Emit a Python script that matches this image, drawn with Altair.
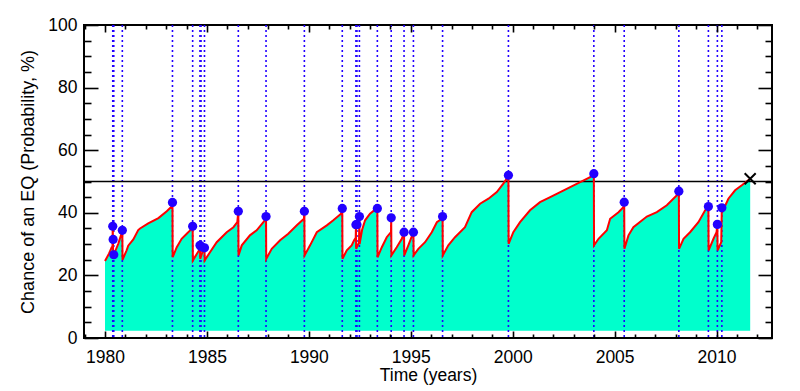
import altair as alt
import pandas as pd

# ---- data ----
curve_year = [
    1980.00, 1980.20, 1980.33, 1980.37, 1980.38, 1980.39, 1980.40, 1980.43, 1980.65, 1980.84,
    1980.85, 1980.86, 1981.06, 1981.14, 1981.39, 1981.63, 1981.72, 1982.12, 1982.62, 1983.03,
    1983.27, 1983.31, 1983.32, 1983.52, 1983.76, 1984.01, 1984.29, 1984.30, 1984.31, 1984.63,
    1984.66, 1984.67, 1984.80, 1984.88, 1984.89, 1985.15, 1985.48, 1985.97, 1986.30, 1986.49,
    1986.54, 1986.55, 1986.71, 1987.11, 1987.44, 1987.77, 1987.89, 1987.90, 1987.91, 1988.18,
    1988.59, 1988.99, 1989.41, 1989.76, 1989.78, 1989.79, 1990.06, 1990.39, 1990.88, 1991.20,
    1991.58, 1991.64, 1991.65, 1991.86, 1992.10, 1992.22, 1992.30, 1992.31, 1992.32, 1992.46,
    1992.48, 1992.49, 1992.61, 1992.76, 1993.00, 1993.25, 1993.36, 1993.37, 1993.58, 1993.82,
    1994.03, 1994.04, 1994.05, 1994.31, 1994.56, 1994.67, 1994.68, 1994.88, 1995.13, 1995.14,
    1995.37, 1995.70, 1996.03, 1996.28, 1996.52, 1996.56, 1996.57, 1996.84, 1997.17, 1997.66,
    1997.99, 1998.40, 1998.81, 1999.22, 1999.54, 1999.71, 1999.79, 1999.80, 2000.03, 2000.36,
    2000.85, 2001.34, 2001.84, 2002.33, 2002.82, 2003.31, 2003.80, 2003.98, 2003.99, 2004.21,
    2004.62, 2004.78, 2005.19, 2005.43, 2005.47, 2005.48, 2005.68, 2005.92, 2006.58, 2007.07,
    2007.56, 2008.13, 2008.15, 2008.16, 2008.38, 2008.70, 2009.11, 2009.44, 2009.57, 2009.60,
    2009.61, 2009.85, 2010.00, 2010.04, 2010.05, 2010.23, 2010.26, 2010.30, 2010.58, 2010.91,
    2011.24, 2011.65,
]
curve_prob = [
    24.6, 27.0, 29.0, 29.3, 35.7, 31.5, 25.8, 26.6, 30.1, 34.0,
    34.4, 25.0, 28.0, 29.5, 31.5, 34.5, 35.0, 36.6, 38.3, 40.5,
    42.0, 43.3, 25.8, 29.0, 31.7, 33.3, 35.1, 35.7, 24.8, 28.2,
    29.6, 25.3, 27.8, 28.8, 24.8, 27.4, 30.6, 33.8, 35.4, 37.0,
    40.5, 26.4, 29.6, 32.8, 34.4, 37.0, 38.1, 38.8, 25.3, 28.5,
    31.2, 33.3, 36.0, 38.1, 40.5, 26.4, 29.6, 33.8, 36.0, 37.6,
    39.7, 41.4, 25.3, 28.0, 29.6, 31.2, 32.0, 36.2, 28.5, 30.5,
    38.8, 30.0, 34.5, 37.6, 39.7, 41.0, 41.4, 25.8, 29.0, 32.2,
    33.8, 38.4, 26.4, 29.0, 31.7, 33.8, 26.4, 29.6, 33.8, 26.4,
    28.5, 30.6, 33.8, 37.0, 38.1, 38.8, 26.4, 29.6, 32.2, 35.4,
    40.2, 42.9, 44.5, 46.6, 49.3, 50.9, 52.0, 30.1, 33.8, 37.0,
    40.8, 43.4, 45.0, 46.6, 48.2, 49.8, 51.4, 52.5, 29.6, 31.7,
    34.4, 38.1, 40.2, 41.8, 43.4, 28.5, 32.8, 35.4, 38.8, 40.2,
    42.4, 46.1, 46.9, 28.5, 31.7, 33.8, 37.0, 40.8, 41.8, 42.0,
    28.0, 31.7, 33.8, 36.3, 28.0, 30.6, 42.5, 40.5, 44.5, 47.2,
    48.8, 50.9,
]

event_year = [
    1980.38, 1980.40, 1980.43, 1980.85, 1983.31, 1984.30, 1984.66, 1984.71, 1984.88,
    1986.54, 1987.90, 1989.78, 1991.64, 1992.31, 1992.36, 1992.48, 1993.36, 1994.04,
    1994.67, 1995.13, 1996.56, 1999.79, 2003.98, 2005.47, 2008.15, 2009.60, 2010.04,
    2010.26,
]
event_prob = [
    35.7, 31.5, 26.6, 34.4, 43.3, 35.7, 29.6, 29.2, 28.8,
    40.5, 38.8, 40.5, 41.4, 36.2, 36.2, 38.8, 41.4, 38.4,
    33.8, 33.8, 38.8, 52.0, 52.5, 43.4, 46.9, 42.0, 36.3,
    41.6,
]

now_year = [2011.65]
now_prob = [50.9]
threshold = [50]
fill_floor = 2.3

x_major = [1980, 1985, 1990, 1995, 2000, 2005, 2010]
x_minor = [1979, 1981, 1982, 1983, 1984, 1986, 1987, 1988, 1989, 1991, 1992, 1993, 1994,
           1996, 1997, 1998, 1999, 2001, 2002, 2003, 2004, 2006, 2007, 2008, 2009, 2011, 2012]
y_major = [0, 20, 40, 60, 80, 100]
y_minor = [5, 10, 15, 25, 30, 35, 45, 50, 55, 65, 70, 75, 85, 90, 95]

# ---- build ----
W, H = 688, 313
FONT = "Liberation Sans"

curve_df = pd.DataFrame({"year": curve_year, "prob": curve_prob})
event_df = pd.DataFrame({"year": event_year, "prob": event_prob})
now_df = pd.DataFrame({"year": now_year, "prob": now_prob})
thr_df = pd.DataFrame({"prob": threshold})

xs = alt.Scale(domain=[1978.97, 2012.72], nice=False, zero=False)
ys = alt.Scale(domain=[0, 100], nice=False, zero=False)


def tick_axis(orient, vals, size, offset):
    return alt.Axis(orient=orient, values=vals, labels=False, domain=False, grid=False,
                    ticks=True, tickSize=size, tickWidth=1.6, tickColor="black",
                    offset=offset, title=None, zindex=1)


label_x = alt.Axis(orient="bottom", values=x_major, format="d", ticks=False, tickSize=0,
                   domain=False, grid=False, labelPadding=10, labelFontSize=17.5,
                   title="Time (years)", titlePadding=1, titleFontSize=17.5)
label_y = alt.Axis(orient="left", values=y_major, format="d", ticks=False, tickSize=0,
                   domain=False, grid=False, labelPadding=7, labelFontSize=17.5,
                   title="Chance of an EQ (Probability, %)", titlePadding=10, titleFontSize=18)

area = alt.Chart(curve_df).mark_area(color="#00ffcc", opacity=1).encode(
    x=alt.X("year:Q", scale=xs, axis=label_x),
    y=alt.Y("prob:Q", scale=ys, axis=label_y),
    y2=alt.datum(fill_floor),
)


def ghost(xa, ya):
    return alt.Chart(curve_df).mark_point(opacity=0).encode(
        x=alt.X("year:Q", scale=xs, axis=xa),
        y=alt.Y("prob:Q", scale=ys, axis=ya),
    )


g1 = ghost(tick_axis("top", x_major, 7, -H), tick_axis("right", y_major, 14, -W))
g2 = ghost(tick_axis("top", x_minor, 4, -H), tick_axis("right", y_minor, 7, -W))
g3 = ghost(tick_axis("bottom", x_major, 7, -H), tick_axis("left", y_major, 14, -W))
g4 = ghost(tick_axis("bottom", x_minor, 4, -H), tick_axis("left", y_minor, 7, -W))

rules = alt.Chart(event_df).mark_rule(color="#2200ff", strokeDash=[2, 3], strokeWidth=1.6).encode(
    x=alt.X("year:Q", scale=xs, axis=None),
)

hline = alt.Chart(thr_df).mark_rule(color="black", strokeWidth=1.6).encode(
    y=alt.Y("prob:Q", scale=ys, axis=None),
)

line = alt.Chart(curve_df).mark_line(color="#ff0000", strokeWidth=2).encode(
    x=alt.X("year:Q", scale=xs, axis=None),
    y=alt.Y("prob:Q", scale=ys, axis=None),
)

dots = alt.Chart(event_df).mark_point(filled=True, color="#2200ff", size=85, opacity=1).encode(
    x=alt.X("year:Q", scale=xs, axis=None),
    y=alt.Y("prob:Q", scale=ys, axis=None),
)

xmark = alt.Chart(now_df).mark_point(shape="M-1,-1L1,1M-1,1L1,-1", filled=False, color="black",
                                     strokeWidth=2, size=121, opacity=1).encode(
    x=alt.X("year:Q", scale=xs, axis=None),
    y=alt.Y("prob:Q", scale=ys, axis=None),
)

chart = alt.layer(area, g1, g2, g3, g4, rules, hline, line, dots, xmark).resolve_axis(
    x="independent", y="independent"
).properties(
    width=W, height=H,
    padding={"left": 76, "top": 17, "right": 20, "bottom": 52},
    autosize=alt.AutoSizeParams(type="none"),
    background="white",
).configure_view(
    stroke="black", strokeWidth=2
).configure_axis(
    labelFont=FONT, titleFont=FONT, labelColor="black", titleColor="black",
    titleFontWeight="normal",
)

chart.save("out.html", embed_options={"renderer": "svg", "actions": False})
